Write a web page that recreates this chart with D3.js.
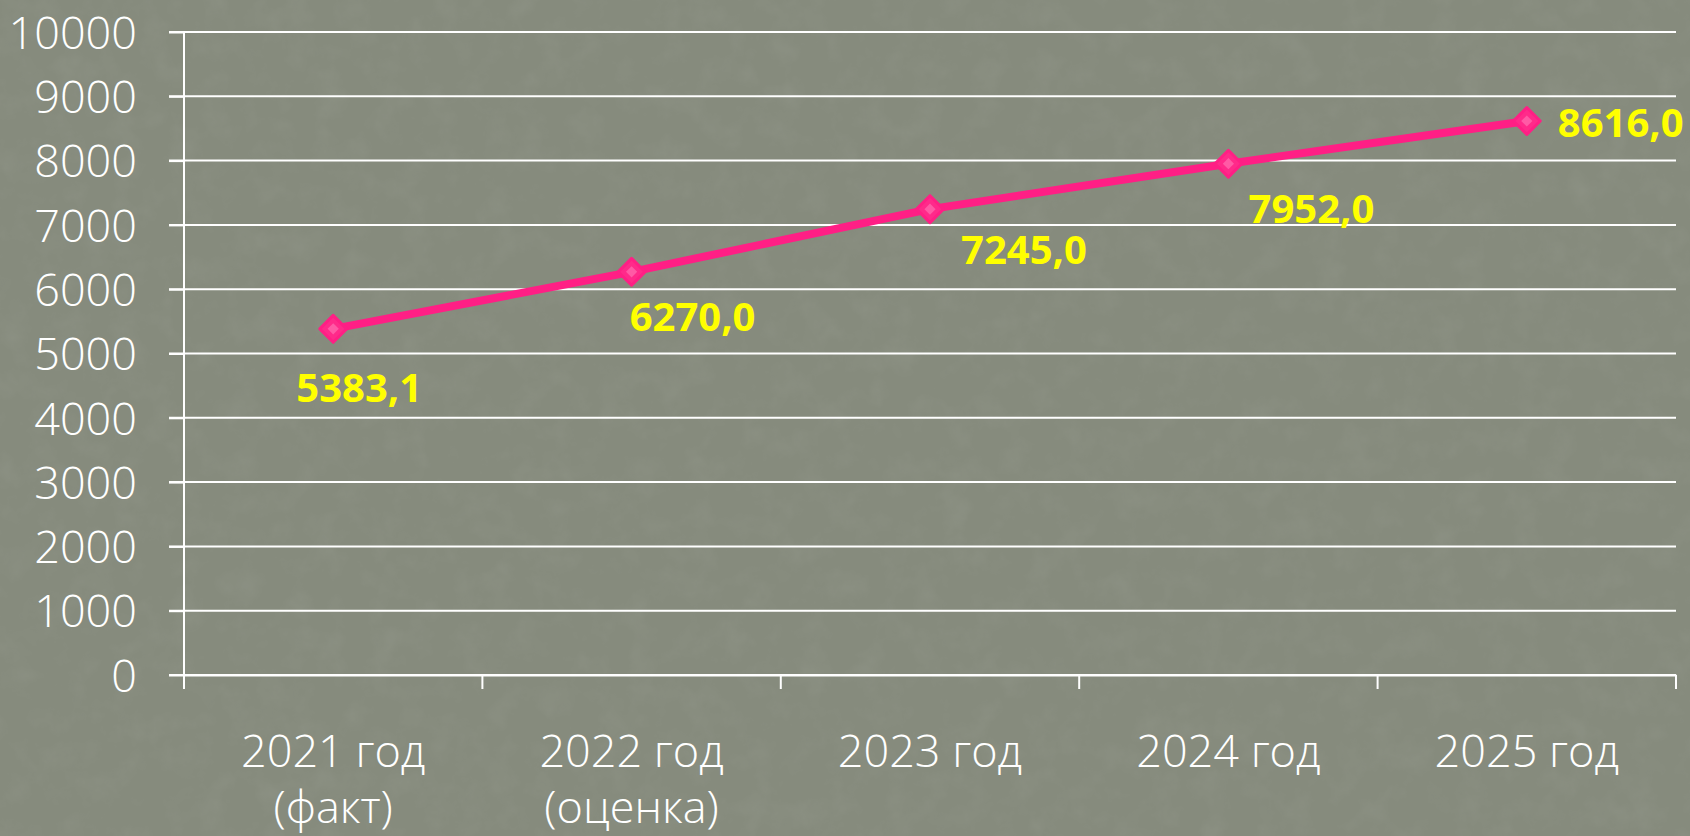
<!DOCTYPE html>
<html><head><meta charset="utf-8">
<script src="https://cdn.jsdelivr.net/npm/d3@7"></script>
<style>
html,body{margin:0;padding:0;background:#888c7f;overflow:hidden;}
svg{display:block;}
</style></head>
<body>
<svg id="chart" width="1690" height="836"></svg>
<script>
const categories = ["2021 год|(факт)", "2022 год|(оценка)", "2023 год", "2024 год", "2025 год"];
const values = [5383.1, 6270.0, 7245.0, 7952.0, 8616.0];
const valueLabels = ["5383,1", "6270,0", "7245,0", "7952,0", "8616,0"];
const yTicks = [0, 1000, 2000, 3000, 4000, 5000, 6000, 7000, 8000, 9000, 10000];
// label placement relative to point: [dx, dy, anchor]
const labelPlacement = [[26, 73, "middle"], [61, 59, "middle"], [94, 55, "middle"], [83, 59, "middle"], [31, 16, "start"]];

const W = 1690, H = 836;
const m = {left: 184, right: 14, top: 32, bottom: 161};
const svg = d3.select("#chart");

// textured background
const defs = svg.append("defs");
const f = defs.append("filter").attr("id", "tex").attr("x", 0).attr("y", 0).attr("width", "100%").attr("height", "100%");
f.append("feTurbulence").attr("type", "fractalNoise").attr("baseFrequency", "0.035 0.035").attr("numOctaves", 4).attr("seed", 5).attr("result", "n");
f.append("feColorMatrix").attr("in", "n").attr("type", "matrix")
  .attr("values", "0 0 0 0 1  0 0 0 0 1  0 0 0 0 1  0.4 0.4 0 0 -0.36").attr("result", "a");
svg.append("rect").attr("width", W).attr("height", H).attr("fill", "#868b7d");
svg.append("rect").attr("width", W).attr("height", H).attr("fill", "#000").attr("filter", "url(#tex)").attr("opacity", 0.14);

const x = d3.scaleBand().domain(categories).range([m.left, W - m.right]).paddingInner(0).paddingOuter(0);
const y = d3.scaleLinear().domain([0, 10000]).range([H - m.bottom, m.top]);

const axisFont = "'Open Sans', 'Noto Sans', sans-serif";

// gridlines
svg.append("g").selectAll("line").data(yTicks).join("line")
  .attr("x1", m.left - 15).attr("x2", W - m.right)
  .attr("y1", d => y(d)).attr("y2", d => y(d))
  .attr("stroke", "#ffffff").attr("stroke-width", 2);

// y axis
const yAxis = svg.append("g").attr("transform", `translate(${m.left},0)`)
  .call(d3.axisLeft(y).tickValues(yTicks).tickSize(15).tickPadding(32).tickFormat(d3.format("d")));
yAxis.select(".domain").attr("stroke", "#fff").attr("stroke-width", 2).attr("d", `M0,${y(10000)}V${y(0)}`);
yAxis.selectAll(".tick line").attr("stroke", "#fff").attr("stroke-width", 2);
yAxis.selectAll(".tick text").attr("fill", "#fff").attr("font-size", 45).attr("font-weight", 300).attr("font-family", axisFont).attr("dy", "0.36em");

// x axis
const xAxis = svg.append("g").attr("transform", `translate(0,${y(0)})`)
  .call(d3.axisBottom(x).tickSize(0).tickFormat(() => ""));
xAxis.select(".domain").attr("stroke", "#fff").attr("stroke-width", 2);
const bounds = [0, 1, 2, 3, 4, 5].map(i => m.left + i * x.bandwidth());
xAxis.selectAll(".sep").data(bounds).join("line").attr("class", "sep")
  .attr("x1", d => d).attr("x2", d => d).attr("y1", 0).attr("y2", 14)
  .attr("stroke", "#fff").attr("stroke-width", 2);
const xl = svg.append("g").selectAll("text").data(categories).join("text")
  .attr("x", d => x(d) + x.bandwidth() / 2).attr("y", 767)
  .attr("text-anchor", "middle").attr("fill", "#fff").attr("font-size", 45).attr("font-weight", 300).attr("font-family", axisFont);
xl.each(function(d) {
  const parts = d.split("|");
  const t = d3.select(this);
  parts.forEach((p, i) => t.append("tspan").attr("x", x(d) + x.bandwidth() / 2).attr("dy", i === 0 ? 0 : 56).text(p));
});

// line
const pts = categories.map((c, i) => [x(c) + x.bandwidth() / 2, y(values[i])]);
svg.append("path").attr("d", d3.line()(pts)).attr("fill", "none")
  .attr("stroke", "#ff1f85").attr("stroke-width", 8).attr("stroke-linejoin", "round");

// markers
svg.append("g").selectAll("path").data(pts).join("path")
  .attr("transform", d => `translate(${d[0]},${d[1]})`)
  .attr("d", d3.symbol().type(d3.symbolDiamond2).size(460))
  .attr("fill", "#ff2a8a").attr("stroke", "#ff1f85").attr("stroke-width", 3).attr("stroke-linejoin", "round");
svg.append("g").selectAll("path").data(pts).join("path")
  .attr("transform", d => `translate(${d[0]},${d[1]})`)
  .attr("d", d3.symbol().type(d3.symbolDiamond2).size(80))
  .attr("fill", "#ff5aa5");

// value labels
svg.append("g").selectAll("text").data(valueLabels).join("text")
  .attr("x", (d, i) => pts[i][0] + labelPlacement[i][0])
  .attr("y", (d, i) => pts[i][1] + labelPlacement[i][1])
  .attr("text-anchor", (d, i) => labelPlacement[i][2])
  .attr("fill", "#ffff00").attr("font-weight", "bold").attr("font-size", 40)
  .attr("font-family", "'Open Sans', 'Liberation Sans', sans-serif")
  .text(d => d);
</script>
</body></html>
